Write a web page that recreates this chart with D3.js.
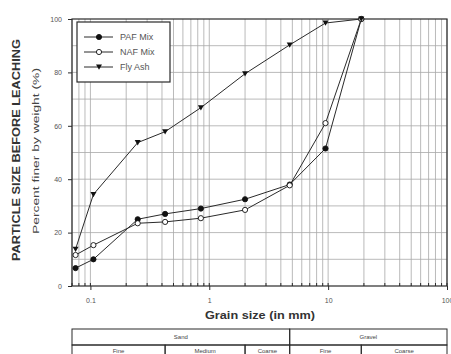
<!DOCTYPE html>
<html>
<head>
<meta charset="utf-8">
<script src="https://cdn.jsdelivr.net/npm/d3@7"></script>
<style>
  body { margin: 0; background: #fff; }
  svg { display: block; font-family: "Liberation Sans", Arial, sans-serif; }
</style>
</head>
<body>
<svg id="chart" width="451" height="354"></svg>
<script>
// sieve sizes (mm) and percent passing
var sieveSizes = [0.075, 0.106, 0.25, 0.425, 0.85, 2, 4.75, 9.5, 19];
var pafMix = [6.7, 10, 25, 27, 29, 32.5, 38, 51.5, 100];
var nafMix = [11.6, 15.3, 23.5, 24, 25.4, 28.5, 37.7, 61, 100];
var flyAsh = [13.8, 34.3, 53.7, 57.8, 66.8, 79.5, 90.3, 98.5, 100];

var seriesNames = ["PAF Mix", "NAF Mix", "Fly Ash"];
var xTickValues = [0.1, 1, 10, 100];
var yTickValues = [0, 20, 40, 60, 80, 100];

// soil classification strip under the chart
var groupNames = ["Sand", "Gravel"];
var groupEdges = [0.07, 4.75, 100];
var classNames = ["Fine", "Medium", "Coarse", "Fine", "Coarse"];
var classEdges = [0.07, 0.425, 2, 4.75, 19, 100];

var svg = d3.select("#chart");
var pLeft = 72, pRight = 447, pTop = 19, pBottom = 286;

var x = d3.scaleLog().domain([0.07, 100]).range([pLeft, pRight]);
var y = d3.scaleLinear().domain([0, 100]).range([pBottom, pTop]);

var gridColor = "#a8a8a8", ink = "#2a2a2a";

// grid
var minorX = [];
[0.01, 0.1, 1, 10].forEach(function (dec) {
    for (var k = 1; k <= 9; k++) {
        var v = dec * k;
        if (v >= 0.07 && v <= 100) minorX.push(v);
    }
});
minorX.push(100);

svg.append("g")
    .selectAll("line")
    .data(minorX)
    .enter().append("line")
    .attr("x1", function (d) { return x(d); })
    .attr("x2", function (d) { return x(d); })
    .attr("y1", pTop)
    .attr("y2", pBottom)
    .attr("stroke", gridColor)
    .attr("stroke-width", 0.8);

svg.append("g")
    .selectAll("line")
    .data(d3.range(10, 100, 10))
    .enter().append("line")
    .attr("x1", pLeft)
    .attr("x2", pRight)
    .attr("y1", function (d) { return y(d); })
    .attr("y2", function (d) { return y(d); })
    .attr("stroke", gridColor)
    .attr("stroke-width", 0.8);

// frame
svg.append("rect")
    .attr("x", pLeft).attr("y", pTop)
    .attr("width", pRight - pLeft).attr("height", pBottom - pTop)
    .attr("fill", "none").attr("stroke", ink).attr("stroke-width", 1.2);

// axes
var yAxis = svg.append("g")
    .attr("transform", "translate(" + pLeft + ",0)")
    .call(d3.axisLeft(y).tickValues(yTickValues).tickSize(4).tickPadding(6));
yAxis.select(".domain").remove();
yAxis.selectAll("line").attr("stroke", ink);
yAxis.selectAll("text").attr("font-size", 7).attr("fill", "#555")
    .attr("font-family", "Liberation Sans, Arial, sans-serif");

var xAxis = svg.append("g")
    .attr("transform", "translate(0," + pBottom + ")")
    .call(d3.axisBottom(x).tickValues(xTickValues).tickFormat(d3.format("~g")).tickSize(4).tickPadding(8));
xAxis.select(".domain").remove();
xAxis.selectAll("line").attr("stroke", ink);
xAxis.selectAll("text").attr("font-size", 7).attr("fill", "#555")
    .attr("font-family", "Liberation Sans, Arial, sans-serif");

// minor ticks on the bottom edge
svg.append("g")
    .selectAll("line")
    .data(minorX)
    .enter().append("line")
    .attr("x1", function (d) { return x(d); })
    .attr("x2", function (d) { return x(d); })
    .attr("y1", pBottom)
    .attr("y2", pBottom - 3)
    .attr("stroke", ink);

// series
var allSeries = [pafMix, nafMix, flyAsh];
var line = d3.line()
    .x(function (d, i) { return x(sieveSizes[i]); })
    .y(function (d) { return y(d); });

allSeries.forEach(function (vals, s) {
    svg.append("path")
        .datum(vals)
        .attr("d", line)
        .attr("fill", "none")
        .attr("stroke", ink)
        .attr("stroke-width", 1);
});

function drawMarker(g, s) {
    if (s == 2) {
        g.append("path")
            .attr("d", "M-3,-2.5L3,-2.5L0,2.8Z")
            .attr("fill", "#111");
    } else {
        g.append("circle")
            .attr("r", 2.6)
            .attr("fill", s == 0 ? "#111" : "#fff")
            .attr("stroke", "#111")
            .attr("stroke-width", 0.9);
    }
}

allSeries.forEach(function (vals, s) {
    svg.append("g")
        .selectAll("g")
        .data(vals)
        .enter().append("g")
        .attr("transform", function (d, i) { return "translate(" + x(sieveSizes[i]) + "," + y(d) + ")"; })
        .each(function () { drawMarker(d3.select(this), s); });
});

// legend
var legend = svg.append("g");
legend.append("rect")
    .attr("x", 77).attr("y", 22).attr("width", 93).attr("height", 60)
    .attr("fill", "#fff").attr("stroke", ink).attr("stroke-width", 1.2);

var item = legend.selectAll("g.item")
    .data(seriesNames)
    .enter().append("g")
    .attr("class", "item")
    .attr("transform", function (d, i) { return "translate(0," + (37 + i * 15) + ")"; });

item.append("line")
    .attr("x1", 84).attr("x2", 113)
    .attr("stroke", ink).attr("stroke-width", 1);
item.each(function (d, i) {
    var m = d3.select(this).append("g").attr("transform", "translate(99,0)");
    drawMarker(m, i);
});
item.append("text")
    .attr("x", 120).attr("y", 3.2)
    .attr("font-size", 9).attr("fill", "#555")
    .text(function (d) { return d; });

// axis titles
svg.append("text")
    .attr("transform", "translate(20,150) rotate(-90)")
    .attr("text-anchor", "middle")
    .attr("font-size", 10).attr("font-weight", "bold").attr("fill", "#333")
    .attr("textLength", 222).attr("lengthAdjust", "spacingAndGlyphs")
    .text("PARTICLE SIZE BEFORE LEACHING");

svg.append("text")
    .attr("transform", "translate(39,151) rotate(-90)")
    .attr("text-anchor", "middle")
    .attr("font-size", 9.5).attr("fill", "#444")
    .attr("textLength", 166).attr("lengthAdjust", "spacingAndGlyphs")
    .text("Percent finer by weight (%)");

svg.append("text")
    .attr("x", 260).attr("y", 319)
    .attr("text-anchor", "middle")
    .attr("font-size", 10).attr("font-weight", "bold").attr("fill", "#333")
    .attr("textLength", 110).attr("lengthAdjust", "spacingAndGlyphs")
    .text("Grain size (in mm)");

// classification table
var tTop = 329, tMid = 345, tBot = 362;
var table = svg.append("g");

table.selectAll("rect.grp")
    .data(groupNames)
    .enter().append("rect")
    .attr("class", "grp")
    .attr("x", function (d, i) { return x(groupEdges[i]); })
    .attr("y", tTop)
    .attr("width", function (d, i) { return x(groupEdges[i + 1]) - x(groupEdges[i]); })
    .attr("height", tMid - tTop)
    .attr("fill", "none").attr("stroke", ink).attr("stroke-width", 1);

table.selectAll("text.grp")
    .data(groupNames)
    .enter().append("text")
    .attr("class", "grp")
    .attr("x", function (d, i) { return (x(groupEdges[i]) + x(groupEdges[i + 1])) / 2; })
    .attr("y", tTop + 10)
    .attr("text-anchor", "middle")
    .attr("font-size", 6).attr("fill", "#444")
    .text(function (d) { return d; });

table.selectAll("rect.cls")
    .data(classNames)
    .enter().append("rect")
    .attr("class", "cls")
    .attr("x", function (d, i) { return x(classEdges[i]); })
    .attr("y", tMid)
    .attr("width", function (d, i) { return x(classEdges[i + 1]) - x(classEdges[i]); })
    .attr("height", tBot - tMid)
    .attr("fill", "none").attr("stroke", ink).attr("stroke-width", 1);

table.selectAll("text.cls")
    .data(classNames)
    .enter().append("text")
    .attr("class", "cls")
    .attr("x", function (d, i) { return (x(classEdges[i]) + x(classEdges[i + 1])) / 2; })
    .attr("y", tMid + 8)
    .attr("text-anchor", "middle")
    .attr("font-size", 6).attr("fill", "#444")
    .text(function (d) { return d; });
</script>
</body>
</html>
